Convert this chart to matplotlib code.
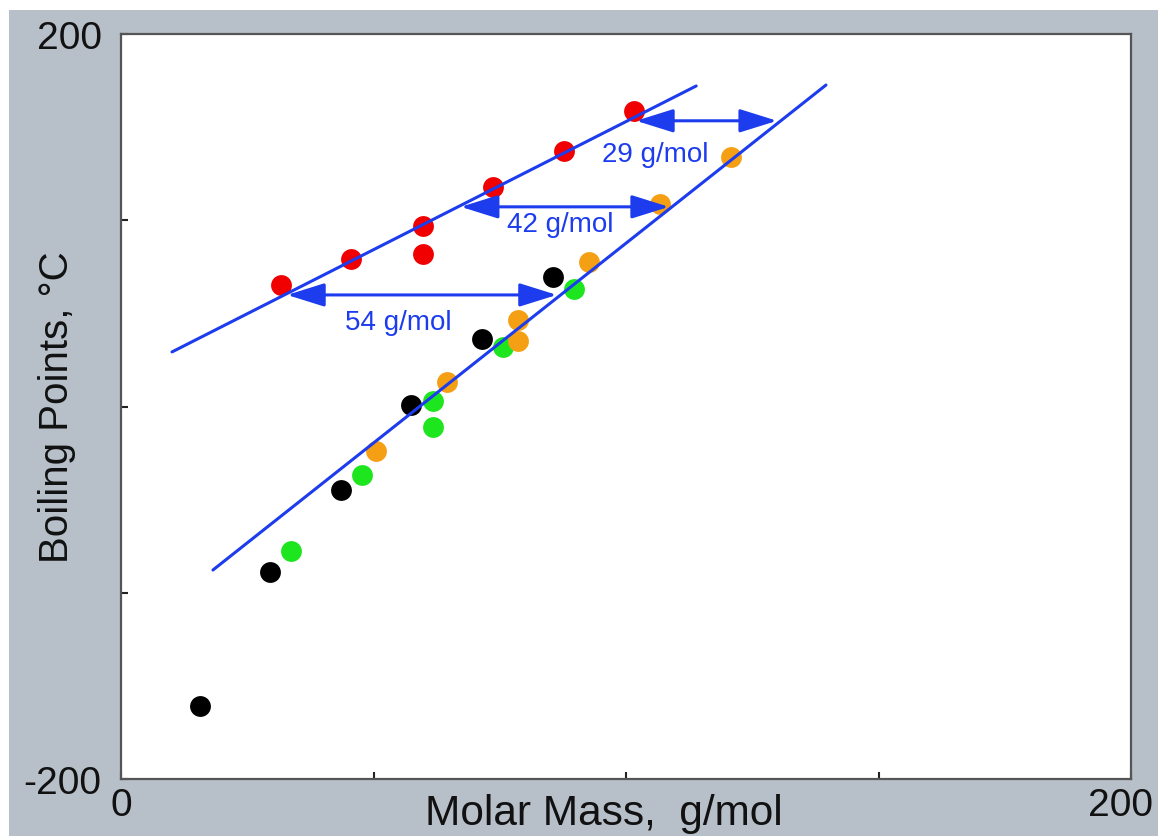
import matplotlib
matplotlib.use("Agg")
import matplotlib.pyplot as plt
from matplotlib.patches import Rectangle
from matplotlib.transforms import ScaledTranslation

plt.rcParams["font.family"] = ["Liberation Sans", "DejaVu Sans"]

# boiling point data (molar mass g/mol, bp degC)
red_x = [31.7, 45.5, 59.8, 59.8, 73.7, 87.7, 101.6]
red_y = [65.2, 79.2, 96.9, 81.9, 117.9, 137.2, 158.7]
black_x = [15.6, 29.5, 43.6, 57.4, 71.5, 85.5]
black_y = [-160.8, -88.9, -44.8, 0.8, 36.2, 69.5]
green_x = [33.7, 47.7, 61.8, 61.8, 75.6, 89.7]
green_y = [-77.6, -36.8, 2.9, -11.0, 32.0, 63.1]
orange_x = [50.5, 64.6, 78.6, 78.6, 92.7, 106.7, 120.8]
orange_y = [-23.9, 13.2, 46.4, 35.2, 77.6, 108.7, 134.0]

# trend lines
upper_x = [10.1, 113.9]
upper_y = [29.3, 172.1]
lower_x = [18.2, 139.6]
lower_y = [-87.8, 172.6]

# mass differences between the lines
gap_labels = ["54 g/mol", "42 g/mol", "29 g/mol"]
gap_y = [59.9, 107.2, 153.4]
gap_x0 = [32.9, 67.3, 102.0]
gap_x1 = [86.3, 108.5, 129.9]
gap_text_x = [55.0, 87.0, 105.8]
gap_text_y = [45.5, 98.0, 135.5]

BLUE = "#1c3cee"

fig = plt.figure(figsize=(11.58, 8.37), dpi=100)
fig.patch.set_facecolor("white")
fig.patches.append(Rectangle((9 / 1158, 0), 1, (837 - 11) / 837,
                             transform=fig.transFigure, facecolor="#b7bfc9",
                             edgecolor="none", zorder=-10))
ax = fig.add_axes([121 / 1158, 57 / 837, 1010 / 1158, 745 / 837])
ax.set_facecolor("white")

ms = 15
ax.plot(red_x, red_y, "o", color="#f00000", ms=ms, mec="none", zorder=2)
ax.plot(black_x, black_y, "o", color="black", ms=ms, mec="none", zorder=2)
ax.plot(green_x, green_y, "o", color="#1ee61e", ms=ms, mec="none", zorder=2)
ax.plot(orange_x, orange_y, "o", color="#f5a014", ms=ms, mec="none", zorder=2)

ax.plot(upper_x, upper_y, color=BLUE, lw=2.2, solid_capstyle="round", zorder=3)
ax.plot(lower_x, lower_y, color=BLUE, lw=2.2, solid_capstyle="round", zorder=3)

for lab, y, x0, x1, tx, ty in zip(gap_labels, gap_y, gap_x0, gap_x1, gap_text_x, gap_text_y):
    ax.annotate("", xy=(x1, y), xytext=(x0, y),
                arrowprops=dict(arrowstyle="<|-|>,head_length=1.15,head_width=0.36",
                                color=BLUE, lw=2.2, shrinkA=0, shrinkB=0,
                                mutation_scale=20), zorder=4)
    ax.text(tx, ty, lab, color=BLUE, fontsize=20, ha="center", va="center", zorder=4)

ax.set_xlim(0, 200)
ax.set_ylim(-200, 200)
ax.set_xticks([0, 50, 100, 150, 200], ["0", "", "", "", "200"])
ax.set_yticks([-200, -100, 0, 100, 200], ["-200", "", "", "", "200"])
ax.tick_params(direction="in", length=5, width=1.5, color="#222222",
               labelsize=28, labelcolor="#111111")
ax.tick_params(axis="y", pad=14)
ax.tick_params(axis="x", pad=6)
lbl = ax.get_xticklabels()[-1]
lbl.set_transform(lbl.get_transform() + ScaledTranslation(-0.1, 0, fig.dpi_scale_trans))

for s in ax.spines.values():
    s.set_color("#555555")
    s.set_linewidth(1.6)

ax.set_xlabel("Molar Mass,  g/mol", fontsize=30.5, color="#111111")
ax.xaxis.set_label_coords(0.478, -0.019)
ax.set_ylabel("Boiling Points, °C", fontsize=29, color="#111111")
ax.yaxis.set_label_coords(-0.045, 0.5)

fig.savefig("out.png", dpi=100)
